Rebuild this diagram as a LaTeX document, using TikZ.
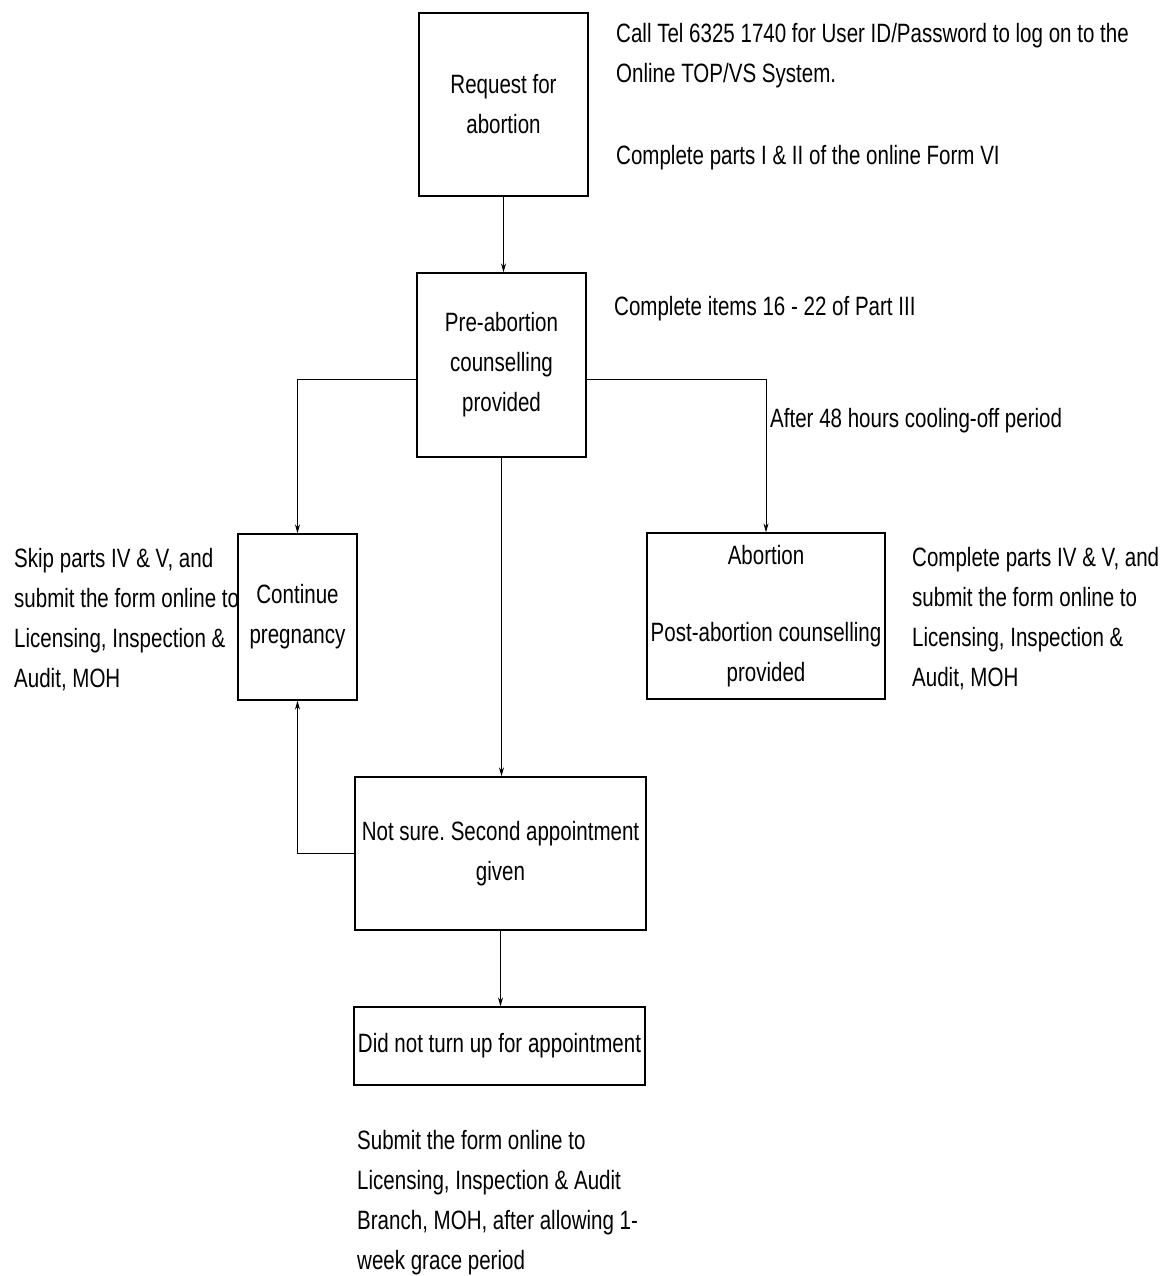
\documentclass[tikz,border=0pt]{standalone}
\usepackage{fontspec}
\setmainfont{Liberation Sans}[FakeStretch=0.775]
\usetikzlibrary{arrows.meta}
\frenchspacing
\begin{document}
\begin{tikzpicture}[x=1pt,y=-1pt,
  every node/.style={font=\fontsize{26.5}{40}\selectfont, inner sep=0pt},
  box/.style={draw, line width=1.3pt, align=center},
  note/.style={anchor=north west, align=left},
  arr/.style={line width=1pt, -{Stealth[length=9pt,width=5pt]}},
  conn/.style={line width=1pt}]
\useasboundingbox[fill=white] (0,0) rectangle (1168,1276);

% boxes
\node[box, minimum width=169pt, minimum height=183pt] (req) at (503.5,104.5) {\frenchspacing Request for\\abortion};
\node[box, minimum width=169pt, minimum height=184pt] (pre) at (501.5,365) {Pre-abortion\\counselling\\provided};
\node[box, minimum width=119pt, minimum height=166pt] (cont) at (297.5,617) {Continue\\pregnancy};
\node[box, minimum width=238pt, minimum height=166pt] (abort) at (766,616) {\raisebox{-3pt}{Abortion}\\[40pt]Post-abortion counselling\\provided};
\node[box, minimum width=291pt, minimum height=153pt] (unsure) at (500.5,853.5) {\frenchspacing Not sure. Second appointment\\given};
\node[box, minimum width=291pt, minimum height=78pt] (noshow) at (499.5,1046) {Did not turn up for appointment};

% notes
\node[note] (callnote) at (616,23) {\frenchspacing Call Tel 6325 1740 for User ID/Password to log on to the\\Online TOP/VS System.};
\node[note] (partsnote) at (616,145) {Complete parts I \& II of the online Form VI};
\node[note] (itemsnote) at (614,296) {Complete items 16 - 22 of Part III};
\node[note] (coolnote) at (770,408) {After 48 hours cooling-off period};
\node[note] (skipnote) at (14,548) {Skip parts IV \& V, and\\submit the form online to\\Licensing, Inspection \&\\Audit, MOH};
\node[note] (compnote) at (912,547) {Complete parts IV \& V, and\\submit the form online to\\Licensing, Inspection \&\\Audit, MOH};
\node[note] (subnote) at (357,1130) {Submit the form online to\\Licensing, Inspection \& Audit\\Branch, MOH, after allowing 1-\\week grace period};

% connectors
\draw[arr] (req.south) -- (req.south |- pre.north);
\draw[arr] ([yshift=-14pt]pre.west) -| (cont.north);
\draw[arr] ([yshift=-14pt]pre.east) -| (abort.north);
\draw[arr] (pre.south) -- (pre.south |- unsure.north);
\draw[arr] (unsure.west) -| (cont.south);
\draw[arr] (unsure.south) -- (unsure.south |- noshow.north);
\end{tikzpicture}
\end{document}
